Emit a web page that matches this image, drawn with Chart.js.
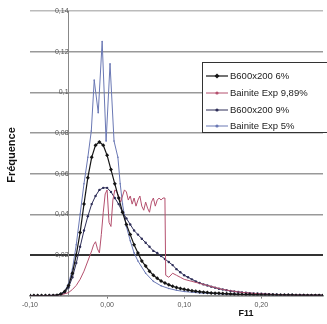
<!DOCTYPE html>
<html>
<head>
<meta charset="utf-8">
<script src="https://cdn.jsdelivr.net/npm/chart.js@4/dist/chart.umd.min.js"></script>
<style>
  html, body { margin: 0; padding: 0; background: #fff; }
  #wrap { width: 327px; height: 324px; }
</style>
</head>
<body>
<div id="wrap"><canvas id="freq"></canvas></div>
<script>
// F11 grid shared by the two B600x200 series
const f11 = [
  -0.100, -0.095, -0.090, -0.085, -0.080, -0.075, -0.070, -0.065, -0.060, -0.055,
  -0.050, -0.045, -0.040, -0.035, -0.030, -0.025, -0.020, -0.015, -0.010, -0.005,
  0.000, 0.005, 0.010, 0.015, 0.020, 0.025, 0.030, 0.035, 0.040, 0.045,
  0.050, 0.055, 0.060, 0.065, 0.070, 0.075, 0.080, 0.085, 0.090, 0.095,
  0.100, 0.105, 0.110, 0.115, 0.120, 0.125, 0.130, 0.135, 0.140, 0.145,
  0.150, 0.155, 0.160, 0.165, 0.170, 0.175, 0.180, 0.185, 0.190, 0.195,
  0.200, 0.205, 0.210, 0.215, 0.220, 0.225, 0.230, 0.235, 0.240, 0.245,
  0.250, 0.255, 0.260, 0.265, 0.270, 0.275, 0.280
];
const b600_6 = [
  0, 0, 0, 0, 0, 0, 0, 0.0002, 0.0008, 0.002,
  0.005, 0.011, 0.020, 0.031, 0.045, 0.058, 0.068, 0.074, 0.0755, 0.074,
  0.069, 0.062, 0.055, 0.048, 0.041, 0.035, 0.030, 0.025, 0.021, 0.017,
  0.0145, 0.012, 0.010, 0.0085, 0.0072, 0.0062, 0.0053, 0.0046, 0.004, 0.0035,
  0.0031, 0.0027, 0.0024, 0.0021, 0.0019, 0.0017, 0.0015, 0.0013, 0.0012, 0.0011,
  0.001, 0.0009, 0.0008, 0.0007, 0.0006, 0.0006, 0.0005, 0.0005, 0.0004, 0.0004,
  0.0003, 0.0003, 0.0003, 0.0003, 0.0002, 0.0002, 0.0002, 0.0002, 0.0002, 0.0001,
  0.0001, 0.0001, 0.0001, 0.0001, 0.0001, 0.0001, 0.0001
];
const b600_9 = [
  0, 0, 0, 0, 0, 0, 0, 0, 0.0005, 0.0015,
  0.004, 0.009, 0.016, 0.024, 0.032, 0.039, 0.045, 0.049, 0.052, 0.053,
  0.053, 0.051, 0.048, 0.045, 0.041, 0.038, 0.035, 0.032, 0.030, 0.028,
  0.026, 0.024, 0.022, 0.021, 0.0195, 0.018, 0.0165, 0.015, 0.013, 0.0115,
  0.010, 0.009, 0.008, 0.007, 0.0062, 0.0055, 0.005, 0.0044, 0.0039, 0.0034,
  0.003, 0.0026, 0.0023, 0.002, 0.0018, 0.0016, 0.0014, 0.0012, 0.0011, 0.001,
  0.0009, 0.0008, 0.0007, 0.0006, 0.0006, 0.0005, 0.0005, 0.0004, 0.0004, 0.0003,
  0.0003, 0.0003, 0.0002, 0.0002, 0.0002, 0.0002, 0.0002
];

// experimental curves, own F11 sampling
const exp989X = [
  -0.100, -0.080, -0.060, -0.050, -0.045, -0.040, -0.035, -0.030, -0.025, -0.020,
  -0.0175, -0.015, -0.0125, -0.010, -0.0075, -0.005, -0.0025, 0.000, 0.0025, 0.005,
  0.0075, 0.010, 0.0125, 0.015, 0.0175, 0.020, 0.0225, 0.025, 0.0275, 0.030,
  0.0325, 0.035, 0.0375, 0.040, 0.0425, 0.045, 0.0475, 0.050, 0.0525, 0.055,
  0.0575, 0.060, 0.0625, 0.065, 0.0675, 0.070, 0.0725, 0.075, 0.076, 0.080,
  0.085, 0.090, 0.095, 0.100, 0.110, 0.120, 0.130, 0.140, 0.150, 0.160,
  0.170, 0.180, 0.190, 0.200, 0.220, 0.240, 0.280
];
const exp989 = [
  0, 0, 0.0003, 0.0015, 0.003, 0.005, 0.008, 0.012, 0.017, 0.022,
  0.025, 0.0265, 0.023, 0.021, 0.030, 0.041, 0.050, 0.052, 0.036, 0.034,
  0.047, 0.052, 0.051, 0.049, 0.046, 0.049, 0.052, 0.051, 0.047, 0.049,
  0.045, 0.048, 0.044, 0.047, 0.049, 0.044, 0.042, 0.046, 0.043, 0.041,
  0.046, 0.048, 0.044, 0.047, 0.048, 0.047, 0.048, 0.048, 0.010, 0.009,
  0.011, 0.010, 0.009, 0.008, 0.007, 0.006, 0.005, 0.004, 0.003, 0.0024,
  0.0018, 0.0014, 0.0011, 0.0008, 0.0005, 0.0003, 0.0002
];
const exp5X = [
  -0.100, -0.080, -0.065, -0.060, -0.055, -0.050, -0.045, -0.040, -0.035, -0.030,
  -0.025, -0.0205, -0.0167, -0.0115, -0.0064, -0.0013, 0.0038, 0.009, 0.014, 0.017,
  0.020, 0.025, 0.030, 0.035, 0.040, 0.050, 0.060, 0.070, 0.080, 0.090,
  0.100, 0.120, 0.150, 0.180, 0.220, 0.280
];
const exp5 = [
  0, 0, 0.0003, 0.001, 0.002, 0.006, 0.013, 0.025, 0.040, 0.055,
  0.068, 0.081, 0.106, 0.090, 0.125, 0.076, 0.114, 0.076, 0.068, 0.055,
  0.045, 0.034, 0.027, 0.021, 0.017, 0.011, 0.007, 0.0048, 0.0035, 0.0026,
  0.002, 0.0013, 0.0008, 0.0005, 0.0003, 0.0002
];

const seriesNames = ['B600x200 6%', 'Bainite Exp 9,89%', 'B600x200 9%', 'Bainite Exp 5%'];
const yTicks = [0, 0.02, 0.04, 0.06, 0.08, 0.10, 0.12, 0.14];
const xTicks = [-0.10, 0.00, 0.10, 0.20];

function pts(xs, ys) {
  return xs.map((x, i) => ({ x: x, y: ys[i] }));
}
function comma(v, d) {
  return v.toFixed(d).replace('.', ',');
}

const styles = [
  { color: '#151515', width: 1.2, radius: 2, point: 'rectRot' },
  { color: '#b4506e', width: 1, radius: 0, point: 'circle' },
  { color: '#2e2e58', width: 1, radius: 1.2, point: 'circle' },
  { color: '#6a78b4', width: 1, radius: 0.8, point: 'circle' }
];

// titles + boxed legend, drawn over the plot like the original
const extras = {
  id: 'extras',
  afterDraw(chart) {
    const c = chart.ctx;
    c.save();
    c.fillStyle = '#111';
    c.font = 'bold 11px "Liberation Sans"';
    c.textAlign = 'center';
    c.textBaseline = 'middle';
    c.save();
    c.translate(12, 155);
    c.rotate(-Math.PI / 2);
    c.fillText('Fréquence', 0, 0);
    c.restore();
    c.font = 'bold 9px "Liberation Sans"';
    c.fillText('F11', 246, 314);

    // legend box
    c.fillStyle = '#fff';
    c.fillRect(202, 62, 130, 70);
    c.strokeStyle = '#333';
    c.lineWidth = 1;
    c.strokeRect(202.5, 62.5, 130, 70);
    c.font = '9.5px "Liberation Sans"';
    c.textAlign = 'left';
    const rows = [76, 93, 110, 126];
    seriesNames.forEach((name, i) => {
      const s = styles[i];
      const y = rows[i];
      c.strokeStyle = s.color;
      c.lineWidth = s.width;
      c.beginPath();
      c.moveTo(206, y);
      c.lineTo(228, y);
      c.stroke();
      c.fillStyle = s.color;
      c.beginPath();
      if (s.point === 'rectRot') {
        c.moveTo(217, y - 2.5); c.lineTo(219.5, y); c.lineTo(217, y + 2.5); c.lineTo(214.5, y);
      } else {
        c.arc(217, y, 1.6, 0, Math.PI * 2);
      }
      c.fill();
      c.fillStyle = '#222';
      c.fillText(name, 230, y + 0.5);
    });
    c.restore();
  }
};

const ctx = document.getElementById('freq').getContext('2d');
const freq = new Chart(ctx, {
  type: 'line',
  data: {
    datasets: [
      { label: seriesNames[0], data: pts(f11, b600_6) },
      { label: seriesNames[1], data: pts(exp989X, exp989) },
      { label: seriesNames[2], data: pts(f11, b600_9) },
      { label: seriesNames[3], data: pts(exp5X, exp5) }
    ].map((d, i) => Object.assign(d, {
      borderColor: styles[i].color,
      backgroundColor: styles[i].color,
      borderWidth: styles[i].width,
      pointRadius: styles[i].radius,
      pointStyle: styles[i].point,
      pointBorderWidth: 0,
      tension: 0,
      fill: false
    }))
  },
  options: {
    responsive: true,
    maintainAspectRatio: false,
    animation: false,
    layout: { padding: { left: 30, right: 0, top: 11, bottom: 13 } },
    plugins: {
      legend: { display: false },
      tooltip: { enabled: false }
    },
    scales: {
      x: {
        type: 'linear',
        min: -0.10,
        max: 0.28,
        afterBuildTicks: (axis) => { axis.ticks = xTicks.map(v => ({ value: v })); },
        ticks: {
          callback: (v) => comma(v, 2),
          font: { family: 'Liberation Sans', size: 7 },
          color: '#555',
          padding: 2,
          maxRotation: 0
        },
        grid: { drawOnChartArea: false, drawTicks: true, tickLength: 3, color: '#777' },
        border: { color: '#888', width: 1.5 }
      },
      y: {
        type: 'linear',
        position: { x: -0.05 },
        min: 0,
        max: 0.14,
        afterBuildTicks: (axis) => { axis.ticks = yTicks.map(v => ({ value: v })); },
        ticks: {
          callback: (v) => v === 0 ? '' : String(+v.toFixed(2)).replace('.', ','),
          font: { family: 'Liberation Sans', size: 7 },
          color: '#555',
          padding: 4
        },
        grid: {
          drawTicks: false,
          color: (c) => Math.abs(c.tick.value - 0.02) < 1e-9 ? '#333' : (c.tick.value > 0.13 ? '#bbb' : '#999'),
          lineWidth: (c) => Math.abs(c.tick.value - 0.02) < 1e-9 ? 2 : 1.5
        },
        border: { color: '#888', width: 1 }
      }
    }
  },
  plugins: [extras]
});
</script>
</body>
</html>
